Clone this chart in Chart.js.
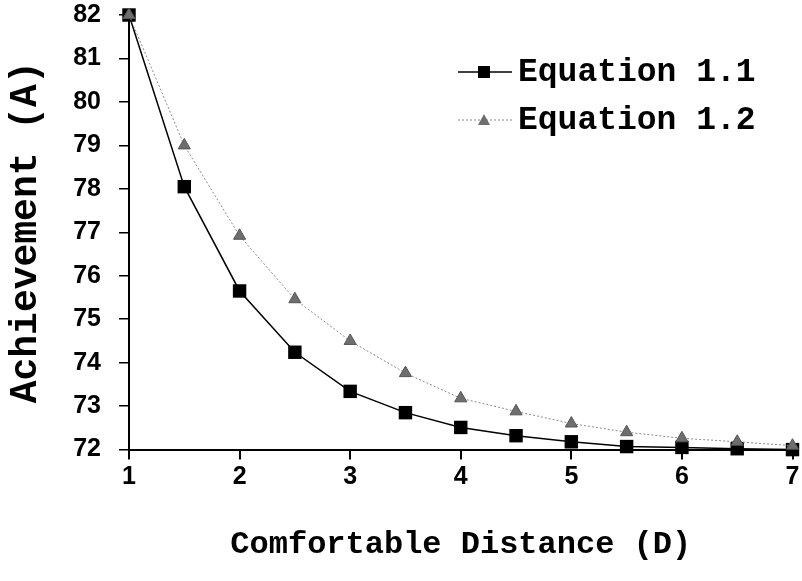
<!DOCTYPE html>
<html>
<head>
<meta charset="utf-8">
<script src="https://cdn.jsdelivr.net/npm/chart.js@4/dist/chart.umd.min.js"></script>
<style>
  html, body { margin: 0; padding: 0; background: #fff; }
  #wrap { width: 802px; height: 581px; }
</style>
</head>
<body>
<div id="wrap"><canvas id="chart" width="802" height="581"></canvas></div>
<script>
const distance = [1, 1.5, 2, 2.5, 3, 3.5, 4, 4.5, 5, 5.5, 6, 6.5, 7];
const eq11 = [82, 78.05, 75.65, 74.24, 73.34, 72.85, 72.51, 72.32, 72.18, 72.07, 72.05, 72.02, 72.0];
const eq12 = [82, 79.0, 76.92, 75.46, 74.5, 73.76, 73.18, 72.88, 72.6, 72.4, 72.26, 72.18, 72.09];
const seriesNames = ['Equation 1.1', 'Equation 1.2'];
const xTicks = [1, 2, 3, 4, 5, 6, 7];
const yTicks = [72, 73, 74, 75, 76, 77, 78, 79, 80, 81, 82];

const MONO = "'Liberation Mono', 'Courier New', monospace";
const SANS = "'Liberation Sans', Arial, sans-serif";

// legend drawn inside the plot, Excel style
const insideLegend = {
    id: 'insideLegend',
    afterDraw(chart) {
        const ctx = chart.ctx;
        const rows = [72, 120];
        chart.data.datasets.forEach((ds, i) => {
            const y = rows[i];
            ctx.save();
            ctx.strokeStyle = ds.borderColor;
            ctx.lineWidth = ds.borderWidth;
            ctx.setLineDash(ds.borderDash || []);
            ctx.beginPath();
            ctx.moveTo(458, y);
            ctx.lineTo(512, y);
            ctx.stroke();
            ctx.setLineDash([]);
            ctx.fillStyle = ds.pointBackgroundColor;
            ctx.beginPath();
            if (i === 0) {
                ctx.fillRect(478, y - 6, 12, 12);
            } else {
                ctx.moveTo(484, y - 6);
                ctx.lineTo(490, y + 5);
                ctx.lineTo(478, y + 5);
                ctx.closePath();
                ctx.fill();
            }
            ctx.fillStyle = '#000';
            ctx.font = 'bold 33px ' + MONO;
            ctx.textBaseline = 'middle';
            ctx.fillText(seriesNames[i], 518, y + 1);
            ctx.restore();
        });
    }
};

new Chart(document.getElementById('chart'), {
    type: 'line',
    data: {
        datasets: [
            {
                label: seriesNames[0],
                data: distance.map((x, i) => ({ x: x, y: eq11[i] })),
                borderColor: '#000',
                borderWidth: 1.5,
                pointStyle: 'rect',
                pointRadius: 9.5,
                pointBackgroundColor: '#000',
                pointBorderColor: '#000',
                pointBorderWidth: 0,
                tension: 0,
                clip: false,
                order: 1
            },
            {
                label: seriesNames[1],
                data: distance.map((x, i) => ({ x: x, y: eq12[i] })),
                borderColor: '#8a8a8a',
                borderWidth: 1,
                borderDash: [2, 2],
                pointStyle: 'triangle',
                pointRadius: 7,
                pointBackgroundColor: '#6e6e6e',
                pointBorderColor: '#555',
                pointBorderWidth: 1,
                tension: 0,
                clip: false,
                order: 0
            }
        ]
    },
    options: {
        responsive: false,
        animation: false,
        layout: { padding: { left: 0, right: 0, top: 0, bottom: 17 } },
        plugins: {
            legend: { display: false },
            tooltip: { enabled: false }
        },
        scales: {
            x: {
                type: 'linear',
                min: 1,
                max: 7,
                afterBuildTicks: axis => { axis.ticks = xTicks.map(v => ({ value: v })); },
                afterFit: axis => { axis.paddingRight = 6; },
                grid: { drawOnChartArea: false, drawTicks: true, tickLength: 10, color: '#000', lineWidth: 2 },
                border: { display: true, color: '#000', width: 2 },
                ticks: { color: '#000', font: { family: SANS, size: 25, weight: 'bold' }, padding: 3, maxRotation: 0 },
                title: {
                    display: true,
                    text: 'Comfortable Distance (D)',
                    color: '#000',
                    font: { family: MONO, size: 32, weight: 'bold' },
                    padding: { top: 30, bottom: 0 }
                }
            },
            y: {
                min: 72,
                max: 82,
                afterBuildTicks: axis => { axis.ticks = yTicks.map(v => ({ value: v })); },
                afterFit: axis => {
                    axis.width = 129;
                    axis.paddingTop = 15;
                    axis.paddingBottom = 15;
                },
                grid: { drawOnChartArea: false, drawTicks: true, tickLength: 10, color: '#000', lineWidth: 1.5 },
                border: { display: true, color: '#000', width: 2 },
                ticks: { color: '#000', font: { family: SANS, size: 25, weight: 'bold' }, padding: 18 },
                title: {
                    display: true,
                    text: 'Achievement (A)',
                    color: '#000',
                    font: { family: MONO, size: 38, weight: 'bold' },
                    padding: { top: 4, bottom: 0 }
                }
            }
        }
    },
    plugins: [insideLegend]
});
</script>
</body>
</html>
